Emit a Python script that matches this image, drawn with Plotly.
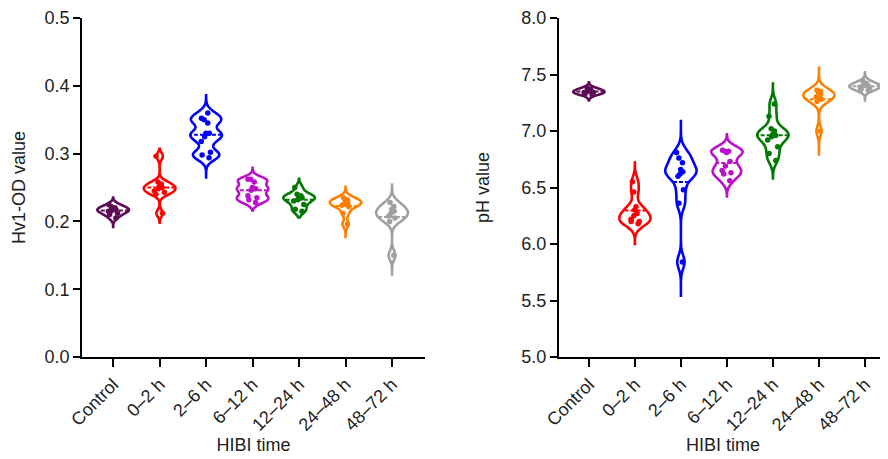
import plotly.graph_objects as go

categories = ["Control", "0–2 h", "2–6 h", "6–12 h", "12–24 h", "24–48 h", "48–72 h"]
colors = ["#5E0A55", "#FF0000", "#0000FF", "#BB11CC", "#007A00", "#FF8000", "#A0A0A0"]

# Hv1-OD values (left panel)
od_control = [0.205, 0.21, 0.212, 0.215, 0.216, 0.217, 0.218, 0.22, 0.222, 0.225]
od_0_2 = [0.296, 0.212, 0.24, 0.243, 0.245, 0.248, 0.25, 0.252, 0.255, 0.258]
od_2_6 = [0.36, 0.352, 0.35, 0.345, 0.33, 0.33, 0.325, 0.318, 0.302, 0.298, 0.294]
od_6_12 = [0.262, 0.262, 0.258, 0.25, 0.248, 0.246, 0.238, 0.235, 0.232, 0.228]
od_12_24 = [0.25, 0.24, 0.238, 0.236, 0.235, 0.232, 0.23, 0.225, 0.218, 0.215]
od_24_48 = [0.235, 0.232, 0.23, 0.228, 0.226, 0.224, 0.222, 0.212, 0.196]
od_48_72 = [0.228, 0.222, 0.218, 0.215, 0.212, 0.208, 0.205, 0.2, 0.15]
od_span_low = [0.19, 0.198, 0.263, 0.216, 0.206, 0.175, 0.12]
od_span_high = [0.235, 0.307, 0.388, 0.279, 0.263, 0.251, 0.256]

# pH values (right panel)
ph_control = [7.32, 7.33, 7.34, 7.35, 7.35, 7.36, 7.37, 7.38, 7.34]
ph_0_2 = [6.55, 6.46, 6.33, 6.3, 6.27, 6.25, 6.22, 6.2, 6.18, 6.2]
ph_2_6 = [6.81, 6.76, 6.72, 6.66, 6.64, 6.62, 6.6, 6.48, 6.36, 5.84]
ph_6_12 = [6.83, 6.82, 6.82, 6.81, 6.73, 6.69, 6.65, 6.63, 6.62, 6.56]
ph_12_24 = [7.24, 7.13, 7.02, 7.0, 6.97, 6.96, 6.95, 6.92, 6.86, 6.8, 6.74]
ph_24_48 = [7.36, 7.35, 7.34, 7.32, 7.31, 7.3, 7.28, 7.26, 7.0]
ph_48_72 = [7.44, 7.42, 7.41, 7.4, 7.39, 7.38, 7.37, 7.36, 7.4]
ph_span_low = [7.27, 6.0, 5.53, 6.42, 6.58, 6.78, 7.27]
ph_span_high = [7.43, 6.72, 7.1, 6.97, 7.42, 7.57, 7.52]

od_groups = [od_control, od_0_2, od_2_6, od_6_12, od_12_24, od_24_48, od_48_72]
ph_groups = [ph_control, ph_0_2, ph_2_6, ph_6_12, ph_12_24, ph_24_48, ph_48_72]

# smoothing (style)
od_bw = [0.004, 0.005, 0.007, 0.005, 0.005, 0.005, 0.007]
ph_bw = [0.02, 0.05, 0.06, 0.045, 0.05, 0.045, 0.025]

FONT = "Liberation Sans, Arial, sans-serif"
fig = go.Figure()

def add_group(vals, cat, color, bw, lo, hi, xa, ya):
    fig.add_trace(go.Violin(
        x=[cat] * len(vals), y=vals, name=cat,
        xaxis=xa, yaxis=ya,
        line=dict(color=color, width=2.6),
        fillcolor="white",
        points="all", pointpos=0, jitter=0.4,
        marker=dict(color=color, size=5.5, line=dict(width=0)),
        bandwidth=bw, spanmode="manual", span=[lo, hi],
        width=0.68, scalemode="width",
        meanline=dict(visible=True, color=color, width=2),
        showlegend=False, hoveron="points",
    ))

for i, cat in enumerate(categories):
    add_group(od_groups[i], cat, colors[i], od_bw[i], od_span_low[i], od_span_high[i], "x", "y")
    add_group(ph_groups[i], cat, colors[i], ph_bw[i], ph_span_low[i], ph_span_high[i], "x2", "y2")

xcommon = dict(
    type="category", categoryorder="array", categoryarray=categories,
    tickangle=-45, ticks="outside", ticklen=8, tickwidth=2, tickcolor="black",
    showline=True, linecolor="black", linewidth=2, showgrid=False, zeroline=False,
    tickfont=dict(family=FONT, size=18, color="#222"),
    automargin=False,
    title=dict(text="HIBI time", font=dict(family=FONT, size=18, color="#222"), standoff=2),
)
ycommon = dict(
    ticks="outside", ticklen=7, tickwidth=2, tickcolor="black",
    showline=True, linecolor="black", linewidth=2, showgrid=False, zeroline=False,
    tickformat=".1f", automargin=False,
    tickfont=dict(family=FONT, size=18, color="#222"),
)

# page body adds an 8 px margin, so the figure is 880x451 and shifted accordingly
fig.update_layout(
    width=880, height=451,
    margin=dict(l=0, r=0, t=10, b=102),
    paper_bgcolor="white", plot_bgcolor="white",
    violinmode="overlay",
    xaxis=dict(xcommon, domain=[0.0841, 0.4739], range=[-0.67, 6.71], anchor="y"),
    yaxis=dict(ycommon, range=[0, 0.5], dtick=0.1, anchor="x",
               title=dict(text="Hv1-OD value", font=dict(family=FONT, size=18, color="#222"), standoff=14)),
    xaxis2=dict(xcommon, domain=[0.6261, 0.9989], range=[-0.65, 6.48], anchor="y2"),
    yaxis2=dict(ycommon, range=[5, 8], dtick=0.5, anchor="x2",
                title=dict(text="pH value", font=dict(family=FONT, size=18, color="#222"), standoff=27)),
)

fig.write_html("out.html")
